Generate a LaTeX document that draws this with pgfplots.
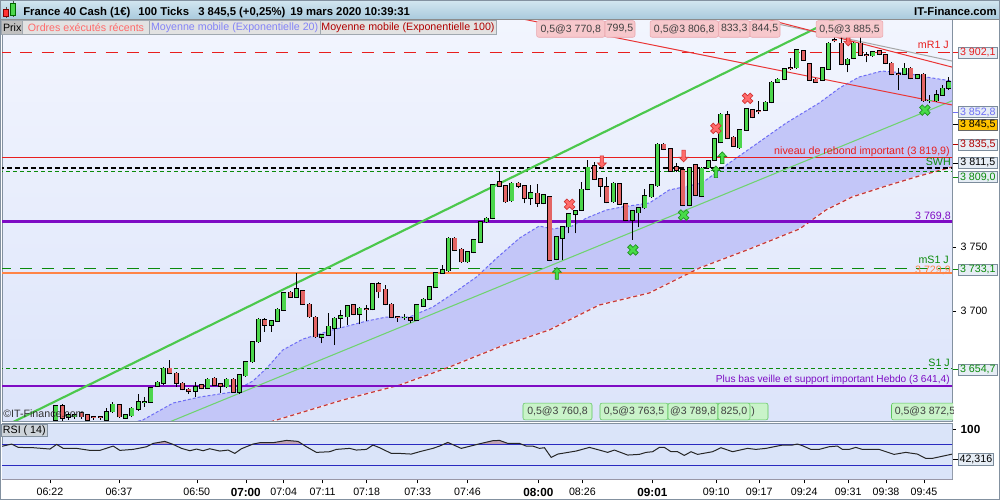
\documentclass[border=0pt]{standalone}
\usepackage{fontspec}
\setmainfont{Liberation Sans}
\usepackage{pgfplots}
\pgfplotsset{compat=1.18}
\usepackage{pgfplotstable}

\newcommand{\fs}[1]{\fontsize{#1}{#1}\selectfont}

\definecolor{bgtop}{HTML}{F2F5FE}
\definecolor{bgbot}{HTML}{DCE4FA}
\definecolor{lav}{HTML}{C3C6F8}
\definecolor{ema20c}{HTML}{6E6EF5}
\definecolor{ema100c}{HTML}{C43A3A}
\definecolor{cup}{HTML}{4CD64C}
\definecolor{cdn}{HTML}{E36464}
\definecolor{frame}{HTML}{8391A0}
\definecolor{purp}{HTML}{7E0BC4}
\definecolor{orng}{HTML}{FF8446}
\definecolor{dgreen}{HTML}{0A8A0A}
\definecolor{lred}{HTML}{E81E1E}
\definecolor{drk}{HTML}{B00000}
\definecolor{tgreen}{HTML}{4CC84C}
\definecolor{rsibg}{HTML}{DAE4F9}
\definecolor{rsifill}{HTML}{C2A2B4}
\definecolor{rsiline}{HTML}{2A2AC0}
\definecolor{tbtop}{HTML}{D3E6F0}
\definecolor{tbbot}{HTML}{A9CADD}
\definecolor{pinkf}{HTML}{F7C8CC}
\definecolor{pinkd}{HTML}{E9A6AE}
\definecolor{grnf}{HTML}{C9F3C9}
\definecolor{grnd}{HTML}{5CC45C}
\definecolor{lblf}{HTML}{E6EDF5}
\definecolor{lbld}{HTML}{7C8C9C}
\definecolor{gold}{HTML}{FFC200}
\definecolor{xred}{HTML}{FF6B6B}
\definecolor{xredd}{HTML}{D03030}
\definecolor{xgrn}{HTML}{48DC48}
\definecolor{xgrnd}{HTML}{1E901E}
\definecolor{lgf}{HTML}{E2E2E2}
\definecolor{lgd}{HTML}{A0A8B0}

\pgfdeclareplotmark{bigx}{%
  \pgfpathmoveto{\pgfqpoint{-1.98pt}{3.96pt}}%
  \pgfpathlineto{\pgfqpoint{0pt}{1.98pt}}%
  \pgfpathlineto{\pgfqpoint{1.98pt}{3.96pt}}%
  \pgfpathlineto{\pgfqpoint{3.96pt}{1.98pt}}%
  \pgfpathlineto{\pgfqpoint{1.98pt}{0pt}}%
  \pgfpathlineto{\pgfqpoint{3.96pt}{-1.98pt}}%
  \pgfpathlineto{\pgfqpoint{1.98pt}{-3.96pt}}%
  \pgfpathlineto{\pgfqpoint{0pt}{-1.98pt}}%
  \pgfpathlineto{\pgfqpoint{-1.98pt}{-3.96pt}}%
  \pgfpathlineto{\pgfqpoint{-3.96pt}{-1.98pt}}%
  \pgfpathlineto{\pgfqpoint{-1.98pt}{0pt}}%
  \pgfpathlineto{\pgfqpoint{-3.96pt}{1.98pt}}%
  \pgfpathclose
  \pgfusepathqfillstroke}
\pgfdeclareplotmark{uparr}{%
  \pgfpathmoveto{\pgfqpoint{0pt}{4.4pt}}%
  \pgfpathlineto{\pgfqpoint{3.3pt}{0.9pt}}%
  \pgfpathlineto{\pgfqpoint{1.3pt}{0.9pt}}%
  \pgfpathlineto{\pgfqpoint{1.3pt}{-4.4pt}}%
  \pgfpathlineto{\pgfqpoint{-1.3pt}{-4.4pt}}%
  \pgfpathlineto{\pgfqpoint{-1.3pt}{0.9pt}}%
  \pgfpathlineto{\pgfqpoint{-3.3pt}{0.9pt}}%
  \pgfpathclose
  \pgfusepathqfillstroke}
\pgfdeclareplotmark{dnarr}{%
  \pgfpathmoveto{\pgfqpoint{0pt}{-4.4pt}}%
  \pgfpathlineto{\pgfqpoint{3.3pt}{-0.9pt}}%
  \pgfpathlineto{\pgfqpoint{1.3pt}{-0.9pt}}%
  \pgfpathlineto{\pgfqpoint{1.3pt}{4.4pt}}%
  \pgfpathlineto{\pgfqpoint{-1.3pt}{4.4pt}}%
  \pgfpathlineto{\pgfqpoint{-1.3pt}{-0.9pt}}%
  \pgfpathlineto{\pgfqpoint{-3.3pt}{-0.9pt}}%
  \pgfpathclose
  \pgfusepathqfillstroke}

% 100-tick candles: index, open, high, low, close
\pgfplotstableread{
k o h l c
0 3614.8 3626.6 3612.0 3626.0
1 3626.0 3627.0 3614.0 3616.2
2 3617.2 3620.3 3614.8 3618.7
3 3617.4 3620.0 3616.0 3618.7
4 3620.3 3621.3 3616.0 3617.4
5 3618.7 3619.5 3613.0 3614.8
6 3617.2 3617.6 3614.8 3617.0
7 3617.5 3618.0 3615.0 3617.3
8 3614.8 3624.0 3613.0 3621.3
9 3621.3 3629.1 3620.5 3627.1
10 3626.6 3627.4 3616.5 3617.4
11 3616.6 3619.3 3616.2 3618.7
12 3618.2 3624.8 3617.0 3624.0
13 3623.2 3634.9 3622.0 3628.7
14 3628.7 3633.0 3625.2 3628.9
15 3629.1 3641.0 3628.0 3640.1
16 3641.6 3645.6 3641.0 3644.3
17 3643.5 3656.0 3642.5 3655.2
18 3655.2 3661.7 3650.5 3651.3
19 3651.3 3652.0 3640.9 3643.5
20 3643.5 3644.2 3638.0 3638.8
21 3638.8 3639.5 3635.1 3637.3
22 3637.7 3644.8 3633.0 3640.9
23 3642.2 3643.0 3638.8 3639.6
24 3639.6 3647.5 3639.0 3646.6
25 3647.4 3648.2 3641.5 3642.2
26 3643.0 3643.8 3636.2 3641.6
27 3640.9 3647.5 3640.0 3646.6
28 3646.6 3647.4 3636.0 3636.9
29 3636.9 3650.8 3635.5 3650.0
30 3649.5 3661.3 3648.8 3660.4
31 3660.4 3676.4 3659.6 3675.6
32 3676.0 3694.3 3675.3 3693.5
33 3693.0 3694.5 3683.7 3689.1
34 3689.1 3693.0 3683.8 3692.2
35 3692.2 3702.1 3691.5 3701.3
36 3700.8 3715.1 3700.0 3714.3
37 3714.6 3715.4 3710.0 3710.7
38 3710.7 3729.5 3710.0 3717.0
39 3715.9 3716.7 3704.5 3705.2
40 3705.2 3706.0 3694.8 3695.6
41 3695.1 3695.9 3679.0 3680.0
42 3679.5 3682.0 3674.8 3681.2
43 3681.2 3698.2 3680.5 3688.0
44 3686.5 3695.0 3673.4 3694.3
45 3694.3 3700.8 3686.5 3696.1
46 3695.6 3704.8 3689.1 3704.0
47 3704.7 3705.6 3696.6 3697.4
48 3697.4 3703.0 3689.6 3702.1
49 3701.6 3704.7 3692.4 3701.3
50 3701.3 3721.7 3700.5 3720.9
51 3720.9 3722.9 3709.9 3715.1
52 3716.9 3720.3 3704.4 3705.2
53 3705.2 3706.0 3694.5 3695.3
54 3695.3 3696.1 3691.6 3695.1
55 3694.8 3697.6 3693.0 3695.1
56 3694.8 3695.5 3690.9 3693.0
57 3693.0 3705.5 3692.3 3704.7
58 3704.1 3710.0 3703.3 3709.1
59 3709.1 3719.5 3708.3 3718.7
60 3718.5 3730.3 3717.7 3729.5
61 3729.9 3736.0 3729.0 3732.0
62 3731.5 3757.6 3730.7 3756.8
63 3756.8 3757.6 3746.8 3747.6
64 3748.2 3749.0 3737.7 3738.5
65 3738.5 3747.1 3737.7 3746.3
66 3745.9 3756.3 3745.0 3755.5
67 3754.1 3770.6 3753.3 3769.8
68 3769.8 3773.2 3769.0 3772.4
69 3772.4 3799.2 3771.6 3798.4
70 3801.0 3809.6 3796.8 3797.6
71 3797.6 3798.4 3784.6 3785.4
72 3786.2 3800.6 3785.4 3799.8
73 3799.8 3800.5 3795.9 3797.6
74 3797.6 3798.4 3784.1 3788.0
75 3788.0 3798.4 3782.8 3792.4
76 3791.9 3799.0 3781.5 3784.1
77 3784.1 3791.4 3783.3 3790.6
78 3789.3 3790.0 3739.0 3739.8
79 3740.4 3758.8 3739.6 3758.0
80 3756.8 3766.7 3739.8 3765.9
81 3765.9 3776.4 3760.7 3775.6
82 3775.6 3779.0 3760.7 3778.2
83 3778.9 3801.0 3778.1 3795.1
84 3795.1 3818.0 3794.3 3812.3
85 3813.3 3816.6 3802.2 3803.0
86 3803.0 3803.8 3789.3 3797.6
87 3797.1 3804.9 3784.1 3784.9
88 3785.4 3800.6 3784.6 3799.8
89 3799.2 3800.0 3782.8 3783.6
90 3783.6 3784.4 3770.3 3771.1
91 3771.1 3779.0 3755.5 3778.2
92 3776.8 3781.5 3765.4 3780.7
93 3780.7 3795.1 3780.0 3789.8
94 3789.3 3799.2 3788.5 3798.4
95 3797.9 3831.0 3797.1 3830.2
96 3830.2 3831.0 3825.8 3826.6
97 3826.6 3827.4 3808.8 3809.6
98 3812.7 3815.6 3809.0 3810.1
99 3810.3 3811.0 3782.0 3782.8
100 3782.8 3812.3 3782.0 3811.5
101 3814.1 3815.0 3789.8 3790.6
102 3789.8 3812.3 3789.0 3811.5
103 3812.0 3818.0 3811.0 3817.2
104 3818.0 3835.2 3817.2 3834.4
105 3831.8 3854.5 3831.0 3853.7
106 3853.1 3856.2 3834.1 3834.9
107 3835.7 3836.5 3828.3 3829.1
108 3827.6 3842.2 3826.8 3841.4
109 3841.4 3858.6 3840.6 3857.8
110 3857.0 3857.8 3850.5 3851.3
111 3856.2 3864.3 3853.7 3856.0
112 3857.0 3863.8 3856.2 3863.0
113 3863.0 3879.5 3862.2 3878.7
114 3879.1 3881.8 3878.3 3881.0
115 3881.0 3889.9 3880.2 3889.1
116 3890.1 3897.4 3888.3 3890.0
117 3890.1 3904.7 3889.3 3903.9
118 3903.4 3904.2 3895.3 3896.1
119 3893.0 3893.8 3879.7 3880.5
120 3881.0 3881.8 3878.3 3879.1
121 3880.5 3890.9 3879.7 3890.1
122 3889.1 3909.9 3888.3 3909.1
123 3911.7 3914.3 3909.9 3911.5
124 3909.1 3916.0 3891.9 3892.7
125 3892.7 3897.4 3886.5 3896.6
126 3897.4 3909.9 3896.6 3909.1
127 3909.1 3917.0 3899.2 3900.0
128 3900.0 3902.6 3894.3 3899.8
129 3899.5 3903.4 3898.7 3902.6
130 3903.1 3904.0 3899.7 3900.5
131 3900.0 3900.8 3892.7 3893.5
132 3893.5 3894.3 3884.1 3884.9
133 3885.2 3889.8 3872.7 3884.9
134 3884.9 3893.7 3884.1 3889.6
135 3889.6 3890.4 3881.0 3881.8
136 3881.8 3885.2 3881.0 3884.4
137 3884.9 3885.7 3863.5 3864.3
138 3864.3 3868.7 3862.2 3864.6
139 3864.3 3872.6 3863.5 3868.7
140 3868.7 3876.6 3868.0 3874.0
141 3874.0 3882.8 3873.0 3879.1
}\candles

% exponential moving average 20
\pgfplotstableread{
k p
-9 3570
5 3595
12.5 3613.3
13.7 3614.8
18.5 3628.1
22.7 3632.8
27.9 3636.7
31.1 3645.3
33.3 3655.5
35.8 3669.5
39.0 3678.1
43.7 3685.2
49.1 3692.2
52.2 3695.3
55.8 3695.3
59.5 3703.1
62.6 3713.3
66.4 3726.6
69.6 3741.4
73.2 3757.0
76.3 3766.4
78.4 3764.1
81.5 3766.4
83.8 3772.7
86.9 3778.9
89.4 3781.3
93.7 3784.4
96.8 3794.5
102.0 3800.0
106.3 3815.6
109.9 3828.1
115.3 3846.9
120.5 3862.5
123.7 3874.2
126.8 3882.8
130.4 3887.5
134.2 3885.9
137.4 3882.8
141.5 3879.7
}\emaA

% exponential moving average 100
\pgfplotstableread{
k p
-9 3540
20 3590
33.8 3613.3
38.5 3620.3
45.3 3630.5
54.3 3642.2
62.1 3656.2
70.0 3671.9
77.9 3685.2
85.8 3704.7
93.7 3714.1
101.6 3733.6
109.5 3748.4
117.4 3764.1
121.6 3779.0
125.7 3789.1
131.1 3797.7
136.3 3805.5
141.5 3812.5
}\emaB

% band between the two averages (EMA 20 forward, EMA 100 back)
\pgfplotstableread{
k p
-9 3570
5 3595
12.5 3613.3
13.7 3614.8
18.5 3628.1
22.7 3632.8
27.9 3636.7
31.1 3645.3
33.3 3655.5
35.8 3669.5
39.0 3678.1
43.7 3685.2
49.1 3692.2
52.2 3695.3
55.8 3695.3
59.5 3703.1
62.6 3713.3
66.4 3726.6
69.6 3741.4
73.2 3757.0
76.3 3766.4
78.4 3764.1
81.5 3766.4
83.8 3772.7
86.9 3778.9
89.4 3781.3
93.7 3784.4
96.8 3794.5
102.0 3800.0
106.3 3815.6
109.9 3828.1
115.3 3846.9
120.5 3862.5
123.7 3874.2
126.8 3882.8
130.4 3887.5
134.2 3885.9
137.4 3882.8
141.5 3879.7
141.5 3812.5
136.3 3805.5
131.1 3797.7
125.7 3789.1
121.6 3779.0
117.4 3764.1
109.5 3748.4
101.6 3733.6
93.7 3714.1
85.8 3704.7
77.9 3685.2
70.0 3671.9
62.1 3656.2
54.3 3642.2
45.3 3630.5
38.5 3620.3
33.8 3613.3
20 3590
-9 3540
}\band

% RSI(14)
\pgfplotstableread{
k r
-8.83 66.2
-6.99 71.4
-5.95 64.9
-3.58 64.3
-0.95 61.7
0.11 70.7
1.15 63.0
3.26 63.0
5.36 59.1
6.94 59.1
9.04 67.5
10.09 59.1
12.19 61.0
14.31 66.2
15.35 72.7
17.19 76.6
18.50 70.7
19.83 63.0
21.14 58.4
22.19 61.7
23.23 58.4
24.29 62.3
25.87 57.8
27.18 59.7
28.23 53.2
29.29 62.3
31.12 71.4
32.18 74.0
34.27 74.0
36.39 78.5
38.22 76.6
39.54 66.2
41.12 55.2
43.22 56.5
44.27 61.0
46.37 63.0
47.43 59.7
49.01 61.0
50.05 69.5
51.10 64.3
52.95 53.2
54.26 53.2
56.10 51.9
57.41 56.5
59.51 63.0
60.57 67.5
61.88 74.6
63.99 63.0
65.03 66.2
67.15 72.7
68.97 77.9
70.03 78.5
71.34 72.7
73.19 72.7
74.24 67.5
75.28 67.5
76.34 63.0
77.13 64.3
78.19 45.5
79.23 51.9
82.13 57.8
84.23 64.9
85.80 59.7
87.11 55.2
88.17 59.7
90.27 50.0
92.11 51.3
93.17 55.2
94.21 56.5
95.27 64.9
96.06 64.9
97.11 56.5
98.15 56.5
99.21 49.3
100.27 56.5
101.31 51.3
103.68 56.5
105.00 64.3
106.83 56.5
109.20 63.0
110.52 61.0
112.10 63.0
114.72 69.5
116.29 69.5
117.08 71.4
117.87 68.2
119.20 61.0
120.50 61.0
122.08 66.2
123.39 67.5
124.18 61.0
125.24 61.0
126.29 64.9
127.33 61.0
129.97 61.0
132.33 51.3
134.18 55.2
136.01 51.9
137.33 43.5
138.37 43.5
141.53 51.9
}\rsi

\begin{document}
\begin{tikzpicture}
\fill[white] (0,0) rectangle (750pt,375pt);
\useasboundingbox (0,0) rectangle (750pt,375pt);
\shade[top color=tbtop,bottom color=tbbot] (0,360.5pt) rectangle (750pt,375pt);
\shade[top color=bgtop,bottom color=bgbot] (1.5pt,59.25pt) rectangle (714pt,360.5pt);
\fill[rsibg] (1.5pt,15.5pt) rectangle (714pt,57.5pt);

% ---- price panel ----
\begin{axis}[
  at={(1.5pt,59.25pt)}, anchor=south west,
  scale only axis, width=712.5pt, height=301.25pt,
  xmin=-8.52, xmax=141.48, ymin=3614.06, ymax=3927.9,
  axis line style={draw=frame},
  xtick=\empty,
  ytick={3700,3750}, yticklabels={3 700,3 750},
  ytick pos=right, yticklabel pos=right,
  tick align=outside, major tick length=3pt,
  tick style={black, line width=0.4pt},
  yticklabel style={font=\fs{8}},
]
\addplot[fill=lav, draw=none] table[x=k,y=p]{\band};
\addplot[ema20c, line width=0.75pt, dash pattern=on 2.25pt off 1.5pt] table[x=k,y=p]{\emaA};
\addplot[white!70!pink, line width=0.9pt] table[x=k,y=p]{\emaB};
\addplot[ema100c, line width=0.9pt, dash pattern=on 3pt off 2.25pt] table[x=k,y=p]{\emaB};

% horizontal levels
\addplot[lred, line width=0.75pt, dash pattern=on 9pt off 7pt] coordinates {(-9,3902.1) (142,3902.1)};
\addplot[lred, line width=0.9pt] coordinates {(-9,3819.9) (142,3819.9)};
\addplot[black, line width=1.5pt, dash pattern=on 3.75pt off 2.25pt] coordinates {(-9,3811.5) (142,3811.5)};
\addplot[dgreen, line width=0.75pt, dash pattern=on 3pt off 2.25pt] coordinates {(-9,3809.0) (142,3809.0)};
\addplot[purp, line width=2.1pt] coordinates {(-9,3769.8) (142,3769.8)};
\addplot[dgreen, line width=0.9pt, dash pattern=on 9pt off 7pt] coordinates {(-9,3733.1) (142,3733.1)};
\addplot[orng, line width=1.6pt] coordinates {(-9,3729.9) (142,3729.9)};
\addplot[dgreen, line width=0.75pt, dash pattern=on 3pt off 2.25pt] coordinates {(-9,3654.7) (142,3654.7)};
\addplot[purp, line width=2.1pt] coordinates {(-9,3641.4) (142,3641.4)};

% trend lines
\addplot[tgreen, line width=1.6pt] coordinates {(-8.52,3609.0) (141.48,3973.1)};
\addplot[tgreen!80, line width=0.8pt] coordinates {(-8.52,3559.6) (141.48,3864.2)};
\addplot[lred!90, line width=0.75pt] coordinates {(-8.52,4009.6) (141.48,3861.0)};
\addplot[black!35, line width=0.75pt] coordinates {(101.6,3937.3) (141.48,3895.3)};
\addplot[lred!90, line width=0.75pt] coordinates {(101.6,3941.6) (141.48,3890.6)};

% candles: wicks, outline, up bodies, down bodies
\addplot[black, line width=0.75pt, mark=none, quiver={u=0, v={\thisrow{h}-\thisrow{l}}}]
  table[x=k, y=l]{\candles};
\addplot[black, line width=3.75pt, mark=none, quiver={u=0, v={abs(\thisrow{c}-\thisrow{o})+1.2}}]
  table[x=k, y expr={min(\thisrow{o},\thisrow{c})-0.6}]{\candles};
\addplot[cup, line width=2.55pt, mark=none, quiver={u=0, v={max(\thisrow{c}-\thisrow{o},0)}}]
  table[x=k, y=o]{\candles};
\addplot[cdn, line width=2.55pt, mark=none, quiver={u=0, v={max(\thisrow{o}-\thisrow{c},0)}}]
  table[x=k, y=c]{\candles};

% executed orders
\addplot[only marks, mark=bigx, mark options={fill=xred, draw=xredd, line width=0.5pt}]
  coordinates {(81.1,3783.4) (104.2,3842.7) (109.2,3866.2)};
\addplot[only marks, mark=bigx, mark options={fill=xgrn, draw=xgrnd, line width=0.5pt}]
  coordinates {(91.1,3747.7) (99.1,3775.0) (137.2,3857.0)};
\addplot[only marks, mark=uparr, mark options={fill=xgrn, draw=xgrnd, line width=0.5pt}]
  coordinates {(79.1,3729.4) (105.2,3819.8) (104.2,3808.8)};
\addplot[only marks, mark=dnarr, mark options={fill=xred, draw=xredd, line width=0.5pt}]
  coordinates {(86.2,3816.6) (99.1,3821.1) (125.1,3911.7)};
\end{axis}

% ---- RSI panel ----
\begin{axis}[
  at={(1.5pt,15.5pt)}, anchor=south west,
  scale only axis, width=712.5pt, height=42pt,
  xmin=-8.52, xmax=141.48, ymin=2.8, ymax=111.7,
  axis line style={draw=frame},
  xtick={-0.95,9.94,22.24,29.97,35.96,42.11,49.05,57.10,64.98,76.18,83.12,94.16,104.26,111.04,118.14,125.08,131.07,137.07},
  xticklabels={06:22,06:37,06:50,{\fs{8.8}\bfseries 07:00},07:04,07:11,07:18,07:33,07:46,{\fs{8.8}\bfseries 08:00},08:26,{\fs{8.8}\bfseries 09:01},09:10,09:17,09:24,09:31,09:38,09:45},
  xtick pos=bottom,
  ytick={100}, yticklabels={100},
  ytick pos=right, yticklabel pos=right,
  tick align=outside, major tick length=3pt,
  tick style={black, line width=0.4pt},
  xticklabel style={font=\fs{8}},
  yticklabel style={font=\fs{8.8}\bfseries},
]
\addplot[draw=none, fill=rsifill] table[x=k,y=r]{\rsi} \closedcycle;
\addplot[draw=none, fill=rsibg] coordinates {(-9,70) (142,70)} \closedcycle;
\addplot[rsiline, line width=0.75pt] coordinates {(-9,70) (142,70)};
\addplot[rsiline, line width=0.75pt] coordinates {(-9,30) (142,30)};
\addplot[black!85, line width=0.75pt] table[x=k,y=r]{\rsi};
\end{axis}

% ---- overlays, in pixel units of the 1000x500 picture ----
\begin{scope}[x=0.75pt, y=-0.75pt, shift={(0pt,375pt)},
  pinkbox/.style={draw=pinkd, fill=pinkf, rounded corners=1.5pt, inner sep=0pt, minimum height=12.4pt, font=\fs{7.9}, text=black!75},
  grnbox/.style={draw=grnd, fill=grnf, rounded corners=1.5pt, inner sep=0pt, minimum height=12.6pt, font=\fs{7.9}, text=black!75},
  rbox/.style={draw=lbld, fill=lblf, inner sep=0pt, minimum width=29.3pt, minimum height=8.3pt, font=\fs{8}, anchor=west},
  lvl/.style={anchor=east, inner sep=0pt, font=\fs{8}},
  lgb/.style={draw=lgd, fill=lgf, inner sep=0pt, minimum height=10pt, font=\fs{8}}]
\draw[black!45] (0,19.3) -- (1000,19.3);
% logo
\draw[black!70, line width=0.5pt] (6,7) -- (6,18);
\filldraw[fill=red!80, draw=red!50!black, line width=0.5pt] (3.5,9.5) rectangle (8.5,16.5);
\draw[black!70, line width=0.5pt] (13,1.5) -- (13,17);
\filldraw[fill=cup, draw=green!40!black, line width=0.5pt] (10.5,3.5) rectangle (15.5,15);
% title
\node[anchor=base west, inner sep=0, font=\fs{8.5}\bfseries] at (23,15.2) {France 40 Cash (1€)};
\node[anchor=base west, inner sep=0, font=\fs{8.5}\bfseries] at (138,15.2) {100 Ticks};
\node[anchor=base west, inner sep=0, font=\fs{8.5}\bfseries] at (198,15.2) {3 845,5 (+0,25\%)};
\node[anchor=base west, inner sep=0, font=\fs{8.5}\bfseries] at (290,15.2) {19 mars 2020 10:39:31};
\node[anchor=base east, inner sep=0, font=\fs{8.5}\bfseries] at (997,15.2) {IT-Finance.com};
% legend row
\node[lgb, fill=lgf!85!black, minimum width=15.75pt] at (12.2,27.35) {Prix};
\node[lgb, minimum width=95pt, text=xred] at (86,27.35) {Ordres exécutés récents};
\node[lgb, minimum width=128pt, text=ema20c!85] at (234.65,27.35) {Moyenne mobile (Exponentielle 20)};
\node[lgb, minimum width=132pt, text=drk] at (408,27.35) {Moyenne mobile (Exponentielle 100)};
% pending order tags
\node[pinkbox, minimum width=51.2pt] at (570.8,29) {0,5@3 770,8};
\node[pinkbox, minimum width=22.5pt] at (620,29) {799,5};
\node[pinkbox, minimum width=51.2pt] at (684.2,29) {0,5@3 806,8};
\node[pinkbox, minimum width=23.8pt] at (734.2,29) {833,3};
\node[pinkbox, minimum width=22.5pt] at (765,29) {844,5};
\node[pinkbox, minimum width=50.2pt] at (849.5,29) {0,5@3 885,5};
\node[grnbox, minimum width=40.5pt] at (741,411.5) {};
\node[grnbox, minimum width=51.75pt] at (557.5,411.5) {0,5@3 760,8};
\node[grnbox, minimum width=51pt] at (634,411.5) {0,5@3 763,5};
\node[grnbox, minimum width=37.5pt] at (693,411.5) {@3 789,8};
\node[grnbox, minimum width=24pt] at (734,411.5) {825,0};
\node[inner sep=0, font=\fs{7.9}, text=black!75] at (753,411.5) {)};
\begin{scope}
\clip (2,395) rectangle (953,421);
\node[grnbox, minimum width=50.25pt] at (925,411.5) {0,5@3 872,5};
\end{scope}
% level labels inside the chart
\node[lvl, text=lred] at (949,44.5) {mR1 J};
\node[lvl, text=lred] at (950,151.5) {niveau de rebond important (3 819,9)};
\node[lvl, text=dgreen] at (951,162) {SWH};
\node[lvl, text=purp] at (951,216.5) {3 769,8};
\node[lvl, text=dgreen] at (949,260) {mS1 J};
\node[lvl, text=orng] at (951,270) {3 729,9};
\node[lvl, text=dgreen] at (950,362.5) {S1 J};
\node[lvl, text=purp, font=\fs{7.6}] at (950,380) {Plus bas veille et support important Hebdo (3 641,4)};
\node[anchor=west, inner sep=0, font=\fs{8}, text=black!80] at (3,414) {©IT-Finance.com};
% price labels on the right scale
\draw[lred] (953,52.7) -- (958,52.7);
\draw[ema20c] (953,112) -- (958,112);
\draw[black] (953,124.5) -- (958,124.5);
\draw[drk] (953,144.5) -- (958,144.5);
\draw[black] (953,162.8) -- (958,162.8);
\draw[dgreen] (953,177) -- (958,177);
\draw[dgreen] (953,269.7) -- (958,269.7);
\draw[dgreen] (953,369.7) -- (958,369.7);
\node[rbox, text=lred] at (958,52.7) {3 902,1};
\node[rbox, text=ema20c] at (958,112) {3 852,8};
\node[rbox, fill=gold, draw=black!60] at (958,124.5) {3 845,5};
\node[rbox, text=drk] at (958,144.5) {3 835,5};
\node[rbox] at (958,162.8) {3 811,5};
\node[rbox, text=dgreen] at (958,177) {3 809,0};
\node[rbox, text=dgreen] at (958,269.7) {3 733,1};
\node[rbox, text=dgreen] at (958,369.7) {3 654,7};
\draw[black] (953,459.3) -- (958,459.3);
\node[rbox, minimum width=26.5pt] at (958,459.3) {42,316};
\node[draw=frame, fill=frame!40, minimum width=35pt, minimum height=9.5pt, inner sep=0pt, font=\fs{8}] at (24.3,430.3) {RSI ( 14)};
\draw[frame] (0.4,0.4) rectangle (999.6,499.6);
\end{scope}
\end{tikzpicture}
\end{document}
